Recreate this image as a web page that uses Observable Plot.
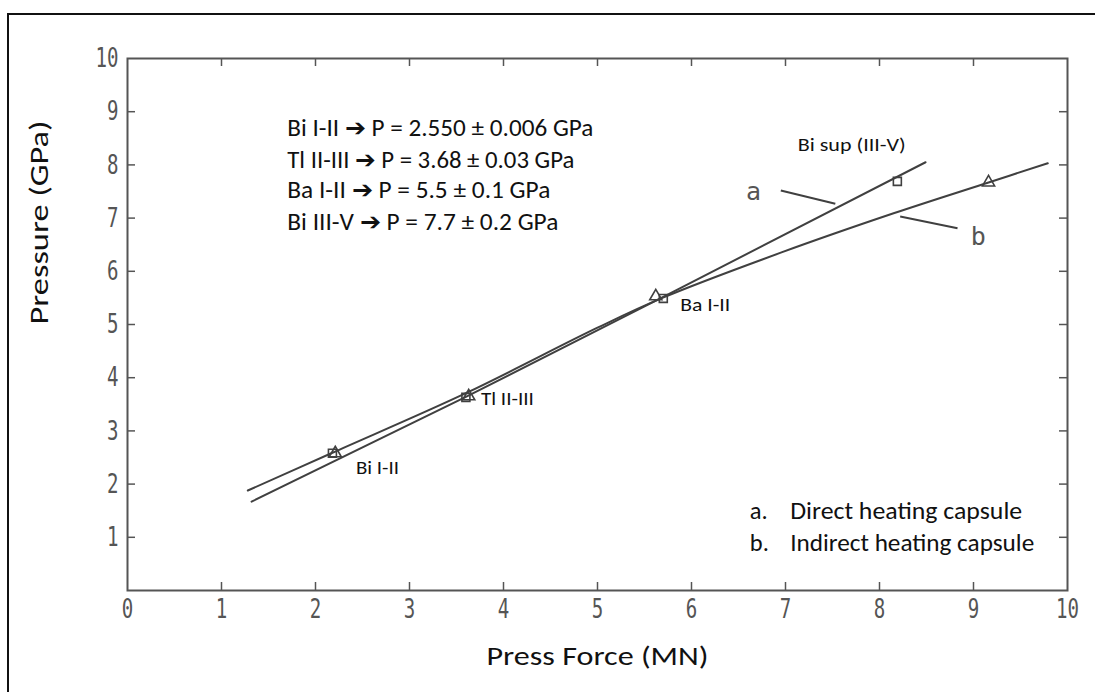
<!DOCTYPE html>
<html><head><meta charset="utf-8">
<script src="https://cdn.jsdelivr.net/npm/d3@7"></script>
<script src="https://cdn.jsdelivr.net/npm/@observablehq/plot@0.6"></script>
<style>
html,body{margin:0;padding:0;background:#fff;overflow:hidden;width:1095px;height:692px}
#wrap{position:relative;width:1095px;height:692px;overflow:hidden}
#border{position:absolute;left:7px;top:13px;width:1200px;height:800px;border:2px solid #111;box-sizing:border-box}
#chart{position:absolute;left:0;top:0}
</style></head><body><div id="wrap"><div id="border"></div><div id="chart"></div></div>
<script>
// Curve a: direct heating capsule
const forceA = [1.32, 3.60, 5.70, 8.49];
const pressureA = [1.67, 3.64, 5.52, 8.05];
// Curve b: indirect heating capsule
const forceB = [1.28, 2.18, 3.60, 5.00, 5.69, 6.95, 8.15, 9.16, 9.79];
const pressureB = [1.88, 2.59, 3.71, 4.94, 5.50, 6.35, 7.09, 7.67, 8.03];
// Calibration points (squares on a, triangles on b)
const squareForce = [2.18, 3.60, 5.70, 8.19];
const squarePressure = [2.58, 3.63, 5.49, 7.69];
const triangleForce = [2.21, 3.63, 5.62, 9.16];
const trianglePressure = [2.58, 3.65, 5.53, 7.67];
const pointNames = ["Bi I-II", "Tl II-III", "Ba I-II", "Bi sup (III-V)"];
const resultLines = [
  "Bi I-II \u2794 P = 2.550 \u00b1 0.006 GPa",
  "Tl II-III \u2794 P = 3.68 \u00b1 0.03 GPa",
  "Ba I-II \u2794 P = 5.5 \u00b1 0.1 GPa",
  "Bi III-V \u2794 P = 7.7 \u00b1 0.2 GPa"
];
const curveKeys = ["a", "b"];
const legendKeys = ["a.", "b."];
const legendNames = ["Direct heating capsule", "Indirect heating capsule"];
const tickValues = [0, 1, 2, 3, 4, 5, 6, 7, 8, 9, 10];
const innerTicks = [1, 2, 3, 4, 5, 6, 7, 8, 9];
const xTitle = "Press Force (MN)";
const yTitle = "Pressure (GPa)";

const lineA = forceA.map((x, i) => ({x, y: pressureA[i]}));
const lineB = forceB.map((x, i) => ({x, y: pressureB[i]}));
const squares = squareForce.map((x, i) => ({x, y: squarePressure[i]}));
const triangles = triangleForce.map((x, i) => ({x, y: trianglePressure[i]}));

const txt = "Carlito, Lato, 'Open Sans', sans-serif";
const mono = "'DejaVu Sans Mono', monospace";
const ink = "#404040";
const frameH = 692 - 58 - 102, frameW = 1095 - 127 - 28;

// annotation anchors (data units)
const labelPos = [[2.43, 2.30], [3.76, 3.60], [5.88, 5.36], [7.13, 8.37]];
const resultY = [8.68, 8.08, 7.53, 6.93];

const chart = Plot.plot({
  width: 1095, height: 692,
  marginLeft: 127, marginRight: 28, marginTop: 58, marginBottom: 102,
  x: {domain: [0, 10]},
  y: {domain: [0, 10]},
  style: {fontFamily: txt, background: "transparent", overflow: "visible"},
  marks: [
    Plot.frame({stroke: "#555", strokeWidth: 2}),
    Plot.tickX(innerTicks, {x: d => d, insetTop: frameH - 8, stroke: "#555", strokeWidth: 1.5}),
    Plot.tickX(innerTicks, {x: d => d, insetBottom: frameH - 8, stroke: "#555", strokeWidth: 1.5}),
    Plot.tickY(innerTicks, {y: d => d, insetRight: frameW - 8, stroke: "#555", strokeWidth: 1.5}),
    Plot.tickY(innerTicks, {y: d => d, insetLeft: frameW - 8, stroke: "#555", strokeWidth: 1.5}),
    Plot.axisX({anchor: "bottom", ticks: tickValues, tickFormat: d => String(d), tickSize: 0, tickPadding: 8, fontSize: 27, fontFamily: mono, fill: "#555", label: null}),
    Plot.axisY({anchor: "left", ticks: tickValues.slice(1), tickFormat: d => String(d), tickSize: 0, tickPadding: 9, fontSize: 27, fontFamily: mono, fill: "#555", label: null}),
    Plot.line(lineA, {x: "x", y: "y", stroke: ink, strokeWidth: 2}),
    Plot.line(lineB, {x: "x", y: "y", stroke: ink, strokeWidth: 2, curve: "catmull-rom"}),
    Plot.dot(squares, {x: "x", y: "y", symbol: "square", r: 4.5, stroke: ink, strokeWidth: 1.6, fill: "none"}),
    Plot.dot(triangles, {x: "x", y: "y", symbol: "triangle", r: 4.5, stroke: ink, strokeWidth: 1.6, fill: "none"}),
    // leader lines to curve keys
    Plot.link([{x1: 6.95, y1: 7.52, x2: 7.53, y2: 7.27}, {x1: 8.22, y1: 7.03, x2: 8.83, y2: 6.81}],
      {x1: "x1", y1: "y1", x2: "x2", y2: "y2", stroke: ink, strokeWidth: 2}),
    Plot.text(curveKeys, {x: [6.66, 9.05], y: [7.50, 6.65], text: d => d, fontSize: 25, fontFamily: mono, fill: "#555"}),
    Plot.text(pointNames, {x: labelPos.map(p => p[0]), y: labelPos.map(p => p[1]), text: d => d, textAnchor: "start", fontSize: 19, fill: "#111"}),
    Plot.text(resultLines, {x: 1.70, y: resultY, text: d => d, textAnchor: "start", fontSize: 24, fill: "#111"}),
    Plot.text(legendKeys, {x: 6.62, y: [1.49, 0.89], text: d => d, textAnchor: "start", fontSize: 24.5, fill: "#111"}),
    Plot.text(legendNames, {x: 7.05, y: [1.49, 0.89], text: d => d, textAnchor: "start", fontSize: 24.5, fill: "#111"}),
    Plot.text([xTitle], {frameAnchor: "bottom", dy: 74, text: d => d, fontSize: 27.5, fill: "#111"}),
    Plot.text([yTitle], {frameAnchor: "left", dx: -88, rotate: -90, text: d => d, fontSize: 27.5, fill: "#111"})
  ]
});
document.getElementById("chart").appendChild(chart);
// narrow the dot-matrix style tick digits
chart.querySelectorAll('[aria-label="x-axis tick label"] text, [aria-label="y-axis tick label"] text').forEach(t => {
  t.setAttribute("textLength", t.textContent.length * 11.5);
  t.setAttribute("lengthAdjust", "spacingAndGlyphs");
});
// match the Calibri-like widths of the original lettering
const widths = new Map([
  [resultLines[0], 306], [resultLines[1], 287], [resultLines[2], 263], [resultLines[3], 271],
  [legendNames[0], 232], [legendNames[1], 244],
  [pointNames[0], 43], [pointNames[1], 53], [pointNames[2], 50], [pointNames[3], 108],
  [xTitle, 222], [yTitle, 204]
]);
chart.querySelectorAll("text").forEach(t => {
  const w = widths.get(t.textContent);
  if (w) { t.setAttribute("textLength", w); t.setAttribute("lengthAdjust", "spacingAndGlyphs"); }
});
</script></body></html>
